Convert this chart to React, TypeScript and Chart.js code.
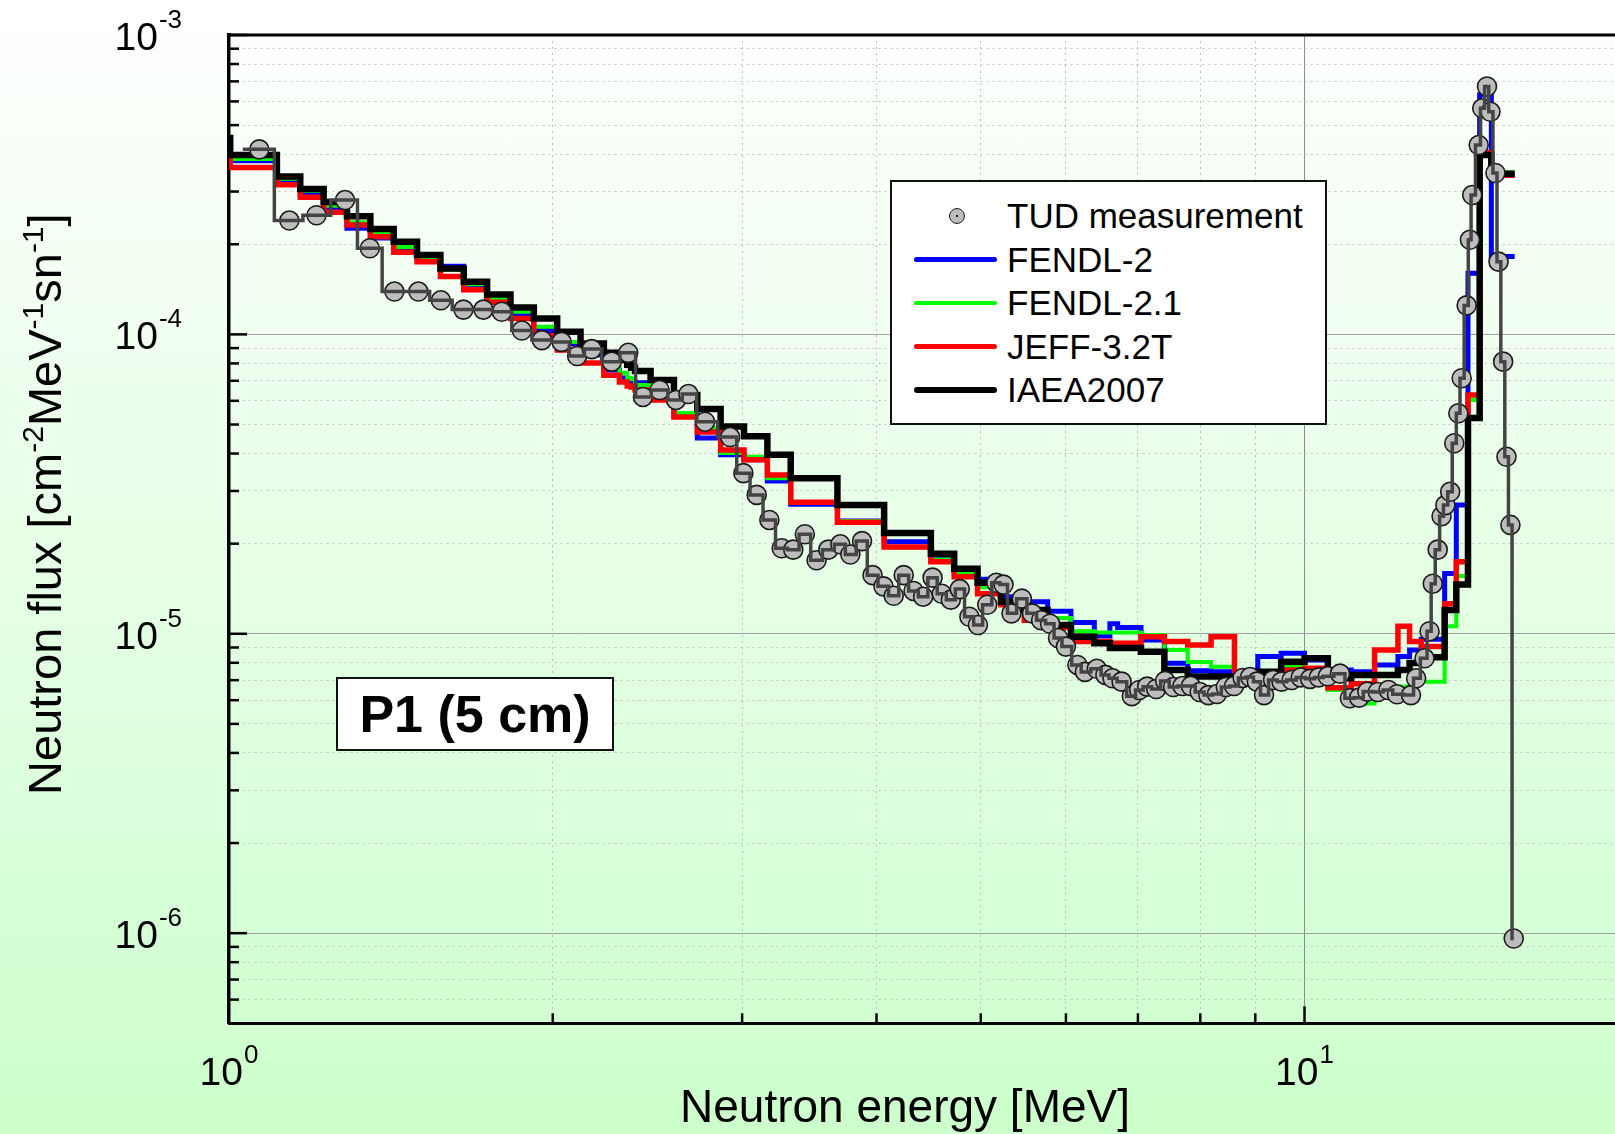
import React, { useEffect, useRef } from "react";
import { Chart, registerables } from "chart.js";

Chart.register(...registerables);

const FONT = "'Liberation Sans', Arial, Helvetica, sans-serif";

// ---- Calculation group structure (MeV, bin edges) ----
const calcGroupEdges = [
  0.9616, 1.0026, 1.108, 1.1648, 1.2246, 1.2873, 1.3534, 1.4227, 1.4957, 1.5724,
  1.653, 1.7377, 1.8268, 1.9205, 2.019, 2.1225, 2.2313, 2.3069, 2.3457, 2.3653,
  2.3851, 2.466, 2.5924, 2.7253, 2.865, 3.0119, 3.1664, 3.3287, 3.6788, 4.0657,
  4.4933, 4.7237, 4.9659, 5.2205, 5.4881, 5.7695, 6.0653, 6.3763, 6.5924, 6.7032,
  7.0469, 7.4082, 7.788, 8.1873, 8.6071, 9.0484, 9.5123, 10.0, 10.513, 11.052,
  11.618, 12.214, 12.523, 12.84, 13.499, 13.84, 14.191, 14.55, 14.918, 15.683,
];

// ---- Calculated spectra (flux per bin) ----
const fendl2Flux = [
  4.13e-4, 3.8e-4, 3.26e-4, 2.96e-4, 2.64e-4, 2.26e-4, 2.1e-4, 1.91e-4, 1.78e-4, 1.69e-4,
  1.45e-4, 1.22e-4, 1.16e-4, 1.03e-4, 9.29e-5, 8.54e-5, 7.61e-5, 7.15e-5, 6.99e-5, 6.94e-5,
  6.89e-5, 6.18e-5, 5.38e-5, 4.51e-5, 3.96e-5, 3.81e-5, 3.24e-5, 2.71e-5, 2.38e-5, 2.03e-5,
  1.79e-5, 1.61e-5, 1.52e-5, 1.33e-5, 1.28e-5, 1.19e-5, 1.09e-5, 9.84e-6, 1.08e-5, 1.05e-5,
  9.54e-6, 7.97e-6, 7.52e-6, 7.47e-6, 7.38e-6, 8.39e-6, 8.61e-6, 8.17e-6, 7.57e-6, 7.47e-6,
  7.87e-6, 8.39e-6, 8.83e-6, 9.59e-6, 1.59e-5, 2.69e-5, 1.6e-4, 6.31e-4, 1.82e-4,
];
const fendl21Flux = [
  4.19e-4, 3.85e-4, 3.31e-4, 3.02e-4, 2.69e-4, 2.37e-4, 2.18e-4, 1.96e-4, 1.79e-4, 1.64e-4,
  1.47e-4, 1.32e-4, 1.19e-4, 1.06e-4, 9.44e-5, 8.68e-5, 7.73e-5, 7.43e-5, 7.15e-5, 7.1e-5,
  6.77e-5, 6.28e-5, 5.46e-5, 4.87e-5, 4.02e-5, 3.9e-5, 3.31e-5, 2.75e-5, 2.38e-5, 1.94e-5,
  1.77e-5, 1.6e-5, 1.43e-5, 1.27e-5, 1.14e-5, 1.13e-5, 1.02e-5, 1.01e-5, 1.01e-5, 1.01e-5,
  9.91e-6, 8.83e-6, 8.05e-6, 7.76e-6, 7.46e-6, 7.29e-6, 7.76e-6, 7.67e-6, 6.49e-6, 5.85e-6,
  6.24e-6, 6.66e-6, 6.92e-6, 6.92e-6, 1.06e-5, 1.56e-5, 6.04e-5, 4.07e-4, 3.48e-4,
];
const jeff32tFlux = [
  3.97e-4, 3.61e-4, 3.16e-4, 2.87e-4, 2.56e-4, 2.32e-4, 2.12e-4, 1.88e-4, 1.75e-4, 1.56e-4,
  1.41e-4, 1.28e-4, 1.13e-4, 9.89e-5, 8.87e-5, 8.03e-5, 7.31e-5, 6.94e-5, 6.72e-5, 6.67e-5,
  6.52e-5, 6.04e-5, 5.3e-5, 4.72e-5, 4.11e-5, 3.81e-5, 3.39e-5, 2.75e-5, 2.36e-5, 1.95e-5,
  1.74e-5, 1.55e-5, 1.36e-5, 1.25e-5, 1.11e-5, 1.05e-5, 9.42e-6, 9.42e-6, 9.29e-6, 9.29e-6,
  9.78e-6, 9.42e-6, 9.18e-6, 9.78e-6, 7.38e-6, 6.84e-6, 7.57e-6, 7.67e-6, 6.6e-6, 6.81e-6,
  8.83e-6, 1.06e-5, 9.42e-6, 9.06e-6, 1.26e-5, 1.74e-5, 6.28e-5, 4.04e-4, 3.4e-4,
];
const iaea2007Flux = [
  4.53e-4, 3.97e-4, 3.37e-4, 3.06e-4, 2.77e-4, 2.48e-4, 2.25e-4, 2.04e-4, 1.84e-4, 1.66e-4,
  1.5e-4, 1.36e-4, 1.23e-4, 1.13e-4, 1.02e-4, 9.32e-5, 8.68e-5, 8.22e-5, 7.92e-5, 7.73e-5,
  7.55e-5, 7.04e-5, 6.28e-5, 5.63e-5, 4.92e-5, 4.57e-5, 3.96e-5, 3.31e-5, 2.69e-5, 2.17e-5,
  1.85e-5, 1.65e-5, 1.48e-5, 1.28e-5, 1.2e-5, 1.07e-5, 9.78e-6, 9.29e-6, 8.97e-6, 8.96e-6,
  8.71e-6, 7.57e-6, 7.2e-6, 7.2e-6, 7.2e-6, 7.47e-6, 8.07e-6, 8.28e-6, 7.1e-6, 7.29e-6,
  7.29e-6, 7.57e-6, 7.98e-6, 8.35e-6, 1.2e-5, 1.46e-5, 5.26e-5, 3.97e-4, 3.44e-4,
];

// ---- TUD measurement ----
const tudFirstBinLow = 1.03;
const tudEnergy = [
  1.067, 1.138, 1.206, 1.282, 1.352, 1.425, 1.5, 1.574, 1.652, 1.724,
  1.793, 1.872, 1.954, 2.038, 2.107, 2.174, 2.269, 2.351, 2.426, 2.514,
  2.604, 2.674, 2.771, 2.924, 3.008, 3.095, 3.18, 3.265, 3.347, 3.431,
  3.518, 3.608, 3.702, 3.782, 3.878, 3.966, 4.06, 4.15, 4.24, 4.33,
  4.42, 4.51, 4.6, 4.69, 4.78, 4.88, 4.97, 5.07, 5.17, 5.25,
  5.34, 5.46, 5.58, 5.69, 5.8, 5.9, 6.0, 6.15, 6.25, 6.41,
  6.53, 6.63, 6.76, 6.91, 7.02, 7.14, 7.28, 7.42, 7.55, 7.7,
  7.84, 7.99, 8.14, 8.29, 8.45, 8.6, 8.76, 8.9, 9.03, 9.17,
  9.35, 9.52, 9.73, 9.92, 10.12, 10.31, 10.51, 10.79, 11.02, 11.24,
  11.44, 11.7, 11.97, 12.19, 12.56, 12.7, 12.93, 13.07, 13.16, 13.3,
  13.41, 13.52, 13.66, 13.78, 13.9, 14.0, 14.15, 14.25, 14.32, 14.52,
  14.63, 14.78, 14.89, 15.05, 15.15, 15.3, 15.41, 15.54, 15.65,
];
const tudFlux = [
  4.15e-4, 2.4e-4, 2.5e-4, 2.81e-4, 1.94e-4, 1.39e-4, 1.39e-4, 1.3e-4, 1.21e-4, 1.21e-4,
  1.19e-4, 1.03e-4, 9.57e-5, 9.44e-5, 8.47e-5, 8.93e-5, 8.11e-5, 8.68e-5, 6.18e-5, 6.52e-5,
  6.04e-5, 6.32e-5, 5.11e-5, 4.54e-5, 3.44e-5, 2.91e-5, 2.4e-5, 1.93e-5, 1.91e-5, 2.15e-5,
  1.76e-5, 1.91e-5, 1.99e-5, 1.84e-5, 2.04e-5, 1.57e-5, 1.44e-5, 1.34e-5, 1.57e-5, 1.39e-5,
  1.33e-5, 1.54e-5, 1.36e-5, 1.3e-5, 1.41e-5, 1.14e-5, 1.07e-5, 1.25e-5, 1.48e-5, 1.46e-5,
  1.17e-5, 1.31e-5, 1.17e-5, 1.11e-5, 1.08e-5, 9.68e-6, 9.06e-6, 7.87e-6, 7.46e-6, 7.64e-6,
  7.29e-6, 7.1e-6, 6.92e-6, 6.19e-6, 6.49e-6, 6.66e-6, 6.54e-6, 6.96e-6, 6.64e-6, 6.69e-6,
  6.69e-6, 6.39e-6, 6.24e-6, 6.29e-6, 6.64e-6, 6.69e-6, 7.12e-6, 7.17e-6, 6.92e-6, 6.24e-6,
  7.01e-6, 6.92e-6, 7.01e-6, 7.15e-6, 7.07e-6, 7.15e-6, 7.21e-6, 7.36e-6, 6.09e-6, 6.12e-6,
  6.41e-6, 6.39e-6, 6.49e-6, 6.28e-6, 6.24e-6, 7.1e-6, 8.28e-6, 1.02e-5, 1.47e-5, 1.91e-5,
  2.47e-5, 2.69e-5, 2.98e-5, 4.33e-5, 5.45e-5, 7.14e-5, 1.25e-4, 2.07e-4, 2.92e-4, 4.29e-4,
  5.69e-4, 6.73e-4, 5.54e-4, 3.46e-4, 1.75e-4, 8.11e-5, 3.9e-5, 2.31e-5, 9.6e-7,
];

// ---- Axes ----
const xRange = [1, 19.44];
const yRange = [5e-7, 1e-3];
const xMajorTicks = [1, 10];
const yMajorTicks = [1e-6, 1e-5, 1e-4, 1e-3];
const minorSteps = [2, 3, 4, 5, 6, 7, 8, 9];
const xTickLabels = [
  { value: 1, base: "10", exp: "0" },
  { value: 10, base: "10", exp: "1" },
];
const yTickLabels = [
  { value: 1e-3, base: "10", exp: "-3" },
  { value: 1e-4, base: "10", exp: "-4" },
  { value: 1e-5, base: "10", exp: "-5" },
  { value: 1e-6, base: "10", exp: "-6" },
];
const xTitle = "Neutron energy [MeV]";
const yTitleParts = [
  { text: "Neutron flux [cm", sup: false },
  { text: "-2", sup: true },
  { text: "MeV", sup: false },
  { text: "-1", sup: true },
  { text: "sn", sup: false },
  { text: "-1", sup: true },
  { text: "]", sup: false },
];
const seriesNames = ["TUD measurement", "FENDL-2", "FENDL-2.1", "JEFF-3.2T", "IAEA2007"];
const seriesColors = ["#444444", "#0000ff", "#00ff00", "#ff0000", "#000000"];
const boxLabel = "P1 (5 cm)";

function logTicks(majors: number[], range: number[]) {
  const lo = range[0] * (1 - 1e-9);
  const hi = range[1] * (1 + 1e-9);
  const out: { value: number; major: boolean }[] = [];
  const decades = [majors[0] / 10, ...majors];
  decades.forEach((d) => {
    if (d >= lo && d <= hi) out.push({ value: d, major: true });
    minorSteps.forEach((m) => {
      const v = d * m;
      if (v >= lo && v <= hi) out.push({ value: v, major: false });
    });
  });
  return out.sort((a, b) => a.value - b.value);
}

function histogramPoints(edges: number[], values: number[]) {
  const pts = values.map((v, i) => ({ x: edges[i], y: v }));
  pts.push({ x: edges[edges.length - 1], y: values[values.length - 1] });
  return pts;
}

const decorPlugin = {
  id: "decor",
  afterDraw(chart: any) {
    const { ctx, chartArea: a, scales } = chart;
    const xs = scales.x;
    const ys = scales.y;
    ctx.save();
    ctx.strokeStyle = "#000";
    ctx.lineCap = "butt";
    // top frame line
    ctx.lineWidth = 3;
    ctx.beginPath();
    ctx.moveTo(a.left - 1.5, a.top);
    ctx.lineTo(a.right + 20, a.top);
    ctx.stroke();
    // inward ticks
    ctx.lineWidth = 2.5;
    ys.ticks.forEach((t: any) => {
      const y = ys.getPixelForValue(t.value);
      ctx.beginPath();
      ctx.moveTo(a.left, y);
      ctx.lineTo(a.left + (t.major ? 18 : 10), y);
      ctx.stroke();
    });
    xs.ticks.forEach((t: any) => {
      if (t.value <= xRange[0]) return;
      const x = xs.getPixelForValue(t.value);
      ctx.beginPath();
      ctx.moveTo(x, a.bottom);
      ctx.lineTo(x, a.bottom - (t.major ? 17 : 10));
      ctx.stroke();
    });
    // tick labels
    ctx.fillStyle = "#000";
    ctx.textBaseline = "alphabetic";
    ctx.textAlign = "left";
    const baseFont = `39px ${FONT}`;
    const expFont = `26px ${FONT}`;
    const measure = (s: string, f: string) => {
      ctx.font = f;
      return ctx.measureText(s).width;
    };
    const drawPow = (base: string, exp: string, x: number, y: number) => {
      ctx.font = baseFont;
      ctx.fillText(base, x, y);
      const w = ctx.measureText(base).width;
      ctx.font = expFont;
      ctx.fillText(exp, x + w + 1, y - 22);
    };
    yTickLabels.forEach((l) => {
      const y = ys.getPixelForValue(l.value);
      const w = measure(l.base, baseFont) + 1 + measure(l.exp, expFont);
      drawPow(l.base, l.exp, a.left - 47 - w, y + 15);
    });
    xTickLabels.forEach((l) => {
      const x = xs.getPixelForValue(l.value);
      const w = measure(l.base, baseFont) + 1 + measure(l.exp, expFont);
      drawPow(l.base, l.exp, x - w / 2, a.bottom + 62);
    });
    // x title
    ctx.font = `46px ${FONT}`;
    ctx.textAlign = "center";
    ctx.fillText(xTitle, 905, a.bottom + 99);
    // y title (rotated, with superscripts)
    const mainF = `47px ${FONT}`;
    const supF = `30px ${FONT}`;
    let total = 0;
    yTitleParts.forEach((p) => {
      total += measure(p.text, p.sup ? supF : mainF);
    });
    ctx.translate(61, (a.top + a.bottom) / 2 - 25);
    ctx.rotate(-Math.PI / 2);
    ctx.textAlign = "left";
    let cx = -total / 2;
    yTitleParts.forEach((p) => {
      ctx.font = p.sup ? supF : mainF;
      ctx.fillText(p.text, cx, p.sup ? -18 : 0);
      cx += ctx.measureText(p.text).width;
    });
    ctx.restore();
  },
};

export default function App() {
  const canvasRef = useRef<HTMLCanvasElement | null>(null);

  useEffect(() => {
    const canvas = canvasRef.current;
    if (!canvas) return;
    const tudPoints = tudEnergy.map((e, i) => ({ x: e, y: tudFlux[i] }));
    const stepLine = (label: string, edges: number[], vals: number[], color: string, width: number) => ({
      label,
      data: histogramPoints(edges, vals),
      borderColor: color,
      backgroundColor: color,
      borderWidth: width,
      stepped: "before" as const,
      pointRadius: 0,
      fill: false,
    });
    const chart = new Chart(canvas, {
      type: "line",
      data: {
        datasets: [
          {
            label: seriesNames[0] + " line",
            data: [{ x: tudFirstBinLow, y: tudFlux[0] }, ...tudPoints],
            borderColor: "#444444",
            borderWidth: 3.5,
            stepped: "middle",
            pointRadius: 0,
            fill: false,
          },
          {
            label: seriesNames[0],
            data: tudPoints,
            showLine: false,
            pointRadius: 9.5,
            pointBackgroundColor: "#bdbdbd",
            pointBorderColor: "#1a1a1a",
            pointBorderWidth: 1.6,
          },
          stepLine(seriesNames[4], calcGroupEdges, iaea2007Flux, seriesColors[4], 6.5),
          stepLine(seriesNames[3], calcGroupEdges, jeff32tFlux, seriesColors[3], 5.5),
          stepLine(seriesNames[2], calcGroupEdges, fendl21Flux, seriesColors[2], 4),
          stepLine(seriesNames[1], calcGroupEdges, fendl2Flux, seriesColors[1], 5),
        ] as any,
      },
      options: {
        animation: false,
        responsive: false,
        maintainAspectRatio: false,
        devicePixelRatio: 1,
        events: [],
        layout: { autoPadding: false, padding: { left: 229, top: 35, right: 0, bottom: 110.7 } },
        plugins: { legend: { display: false }, tooltip: { enabled: false }, title: { display: false } },
        scales: {
          x: {
            type: "logarithmic",
            min: xRange[0],
            max: xRange[1],
            afterBuildTicks: (s: any) => {
              s.ticks = logTicks(xMajorTicks, xRange);
            },
            ticks: { display: false },
            grid: {
              drawTicks: false,
              color: (c: any) => (c.tick ? (c.tick.major ? "#8c8c8c" : "#bdbdbd") : "transparent"),
              lineWidth: 1,
            },
            border: { display: true, color: "#000", width: 3, dash: (c: any) => (c.tick && !c.tick.major ? [2, 4] : []) },
          },
          y: {
            type: "logarithmic",
            min: yRange[0],
            max: yRange[1],
            afterBuildTicks: (s: any) => {
              s.ticks = logTicks(yMajorTicks, yRange);
            },
            ticks: { display: false },
            grid: {
              drawTicks: false,
              color: (c: any) => (c.tick ? (c.tick.major ? "#a0a0a0" : "#c4c4c4") : "transparent"),
              lineWidth: 1,
            },
            border: { display: true, color: "#000", width: 3.5, dash: (c: any) => (c.tick && !c.tick.major ? [2, 4] : []) },
          },
        } as any,
      },
      plugins: [decorPlugin],
    });
    return () => chart.destroy();
  }, []);

  const rowCenters = [36, 79.5, 123, 166.5, 210];
  const lineWidths = [0, 5, 3.5, 5, 6];

  return (
    <div
      style={{
        position: "absolute",
        left: 0,
        top: 0,
        width: 1615,
        height: 1134,
        overflow: "hidden",
        background: "linear-gradient(to bottom, #ffffff 0%, #ccffcc 100%)",
        fontFamily: FONT,
      }}
    >
      <canvas
        ref={canvasRef}
        width={1615}
        height={1134}
        style={{ position: "absolute", left: 0, top: 0, width: 1615, height: 1134 }}
      />
      <div
        style={{
          position: "absolute",
          left: 890,
          top: 180,
          width: 437,
          height: 245,
          boxSizing: "border-box",
          border: "2px solid #111",
          background: "#fff",
        }}
      >
        {seriesNames.map((name, i) => (
          <div
            key={name}
            style={{ position: "absolute", left: 0, top: rowCenters[i] - 2 - 20, width: 430, height: 40 }}
          >
            {i === 0 ? (
              <div
                style={{
                  position: "absolute",
                  left: 57,
                  top: 12,
                  width: 16,
                  height: 16,
                  boxSizing: "border-box",
                  borderRadius: "50%",
                  background: "#bdbdbd",
                  border: "1.5px solid #222",
                }}
              >
                <div style={{ position: "absolute", left: 5.5, top: 5.5, width: 2, height: 2, background: "#222" }} />
              </div>
            ) : (
              <div
                style={{
                  position: "absolute",
                  left: 22,
                  top: 20 - lineWidths[i] / 2,
                  width: 83,
                  height: lineWidths[i],
                  borderRadius: lineWidths[i] / 2,
                  background: seriesColors[i],
                }}
              />
            )}
            <div
              style={{
                position: "absolute",
                left: 115,
                top: 0,
                height: 40,
                lineHeight: "40px",
                fontSize: 35,
                color: "#000",
                whiteSpace: "nowrap",
              }}
            >
              {name}
            </div>
          </div>
        ))}
      </div>
      <div
        style={{
          position: "absolute",
          left: 336,
          top: 677,
          width: 278,
          height: 74,
          boxSizing: "border-box",
          border: "2px solid #111",
          background: "#fff",
          display: "flex",
          alignItems: "center",
          justifyContent: "center",
          fontWeight: "bold",
          fontSize: 52,
          color: "#000",
          whiteSpace: "nowrap",
        }}
      >
        {boxLabel}
      </div>
    </div>
  );
}
